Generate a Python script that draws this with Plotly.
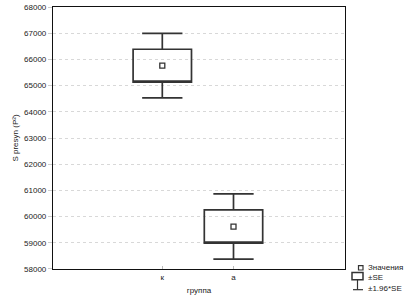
import plotly.graph_objects as go

# Data
categories = ["к", "а"]
cat_pos = [0, 1]
means = [65760, 59620]
se = [628, 635]
y_ticks = [58000, 59000, 60000, 61000, 62000, 63000, 64000, 65000, 66000, 67000, 68000]

W, H = 410, 299
L, R, T, B = 53, 345, 3, 269


def px(x):
    return (x - L) / (R - L)


def py(y):
    return (B - y) / (B - T)


q1 = [m - s for m, s in zip(means, se)]
q3 = [m + s for m, s in zip(means, se)]
lo = [m - 1.96 * s for m, s in zip(means, se)]
hi = [m + 1.96 * s for m, s in zip(means, se)]

FONT = "Liberation Sans, Arial, sans-serif"
DARK = "#333333"

fig = go.Figure()
fig.add_trace(go.Box(
    x=cat_pos, q1=q1, median=q1, q3=q3, lowerfence=lo, upperfence=hi,
    width=0.82, whiskerwidth=0.69,
    line=dict(color=DARK, width=1.7), fillcolor="rgba(255,255,255,0)",
    showlegend=False, hoverinfo="skip",
))
fig.add_trace(go.Scatter(
    x=cat_pos, y=means, mode="markers",
    marker=dict(symbol="square-open", size=5, color=DARK, line=dict(width=1.3, color=DARK)),
    showlegend=False, hoverinfo="skip",
))

fig.update_xaxes(
    range=[-1.535, 2.566], tickvals=cat_pos, ticktext=categories,
    showline=True, mirror=True, linecolor="#111111", linewidth=1.2,
    showgrid=False, zeroline=False,
    ticks="inside", ticklen=3, tickcolor="#bbbbbb",
    tickfont=dict(family=FONT, size=8, color="#222222"),
    title=dict(text="группа", font=dict(family=FONT, size=8, color="#222222"), standoff=6),
)
fig.update_yaxes(
    range=[57999.5, 68000.5], tickvals=y_ticks, ticktext=[str(v) for v in y_ticks],
    ticklabeloverflow="allow",
    showline=True, mirror=True, linecolor="#111111", linewidth=1.2,
    showgrid=True, gridcolor="#d8d8d8", griddash="dot", gridwidth=1, zeroline=False,
    ticks="outside", ticklen=4, tickcolor="#cccccc",
    tickfont=dict(family=FONT, size=8, color="#222222"),
    title=dict(text="S presyn (P²)", font=dict(family=FONT, size=8, color="#222222"), standoff=4),
)

shapes = [
    dict(type="rect", xref="paper", yref="paper", x0=px(358.5), x1=px(363), y0=py(270), y1=py(265.5),
         line=dict(color=DARK, width=1.2)),
    dict(type="rect", xref="paper", yref="paper", x0=px(352), x1=px(363), y0=py(280), y1=py(272.5),
         line=dict(color=DARK, width=1.5)),
    dict(type="line", xref="paper", yref="paper", x0=px(357.5), x1=px(357.5), y0=py(280), y1=py(290),
         line=dict(color=DARK, width=1.2)),
    dict(type="line", xref="paper", yref="paper", x0=px(353), x1=px(363), y0=py(290), y1=py(290),
         line=dict(color=DARK, width=1.2)),
]
annos = []
for text, yy in [("Значения", 267.5), ("±SE", 277.5), ("±1.96*SE", 288.5)]:
    annos.append(dict(text=text, xref="paper", yref="paper", x=px(365.5), y=py(yy),
                      xanchor="left", yanchor="middle", showarrow=False,
                      font=dict(family=FONT, size=8, color="#222222")))

fig.update_layout(
    width=W, height=H, margin=dict(l=L, r=W - R, t=T, b=H - B),
    paper_bgcolor="white", plot_bgcolor="white",
    shapes=shapes, annotations=annos, showlegend=False,
)

fig.write_html(
    "out.html",
    config={"displayModeBar": False},
    post_script="document.body.style.margin='0';document.body.style.padding='0';document.body.style.overflow='hidden';",
)
